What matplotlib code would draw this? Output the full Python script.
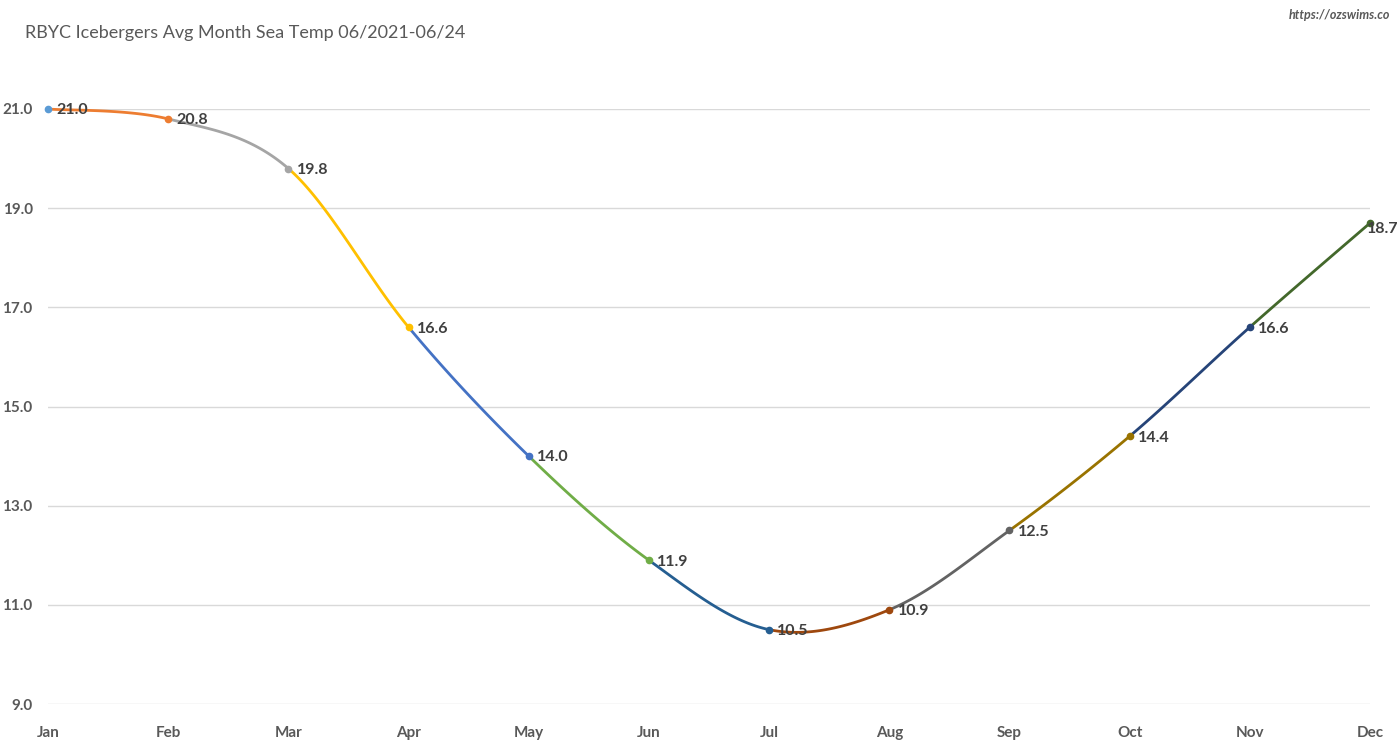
import matplotlib
matplotlib.use('Agg')
import matplotlib.pyplot as plt
import numpy as np

plt.rcParams['font.family'] = ['Lato', 'DejaVu Sans']

#%% data
months = ['Jan', 'Feb', 'Mar', 'Apr', 'May', 'Jun', 'Jul', 'Aug', 'Sep', 'Oct', 'Nov', 'Dec']
temps = [21.0, 20.8, 19.8, 16.6, 14.0, 11.9, 10.5, 10.9, 12.5, 14.4, 16.6, 18.7]
yticks = [9.0, 11.0, 13.0, 15.0, 17.0, 19.0, 21.0]
colors = ['#5B9BD5', '#ED7D31', '#A5A5A5', '#FFC000', '#4472C4', '#70AD47',
          '#255E91', '#9E480E', '#636363', '#997300', '#264478', '#43682B']
title = 'RBYC Icebergers Avg Month Sea Temp 06/2021-06/24'
source = 'https://ozswims.co'

#%% smoothed segments (excel style bezier)
x = np.arange(len(temps), dtype=float)
y = np.array(temps)

def bezier_seg(i, n=60):
    p0 = np.array([x[max(i - 1, 0)], y[max(i - 1, 0)]])
    p1 = np.array([x[i], y[i]])
    p2 = np.array([x[i + 1], y[i + 1]])
    p3 = np.array([x[min(i + 2, len(x) - 1)], y[min(i + 2, len(x) - 1)]])
    c1 = p1 + (p2 - p0) / 6.0
    c2 = p2 - (p3 - p1) / 6.0
    t = np.linspace(0, 1, n)[:, None]
    pts = (1 - t)**3 * p1 + 3 * (1 - t)**2 * t * c1 + 3 * (1 - t) * t**2 * c2 + t**3 * p2
    return pts[:, 0], pts[:, 1]

fig = plt.figure(figsize=(14, 7.5), dpi=100, facecolor='w')
ax = fig.add_axes([48 / 1400, 1 - 704 / 750, 1322 / 1400, 595 / 750])

for i in range(len(temps) - 1):
    sx, sy = bezier_seg(i)
    ax.plot(sx, sy, color=colors[i + 1], lw=2.0, solid_capstyle='round', clip_on=False, zorder=3)

for i in range(len(temps)):
    ax.plot(x[i], y[i], 'o', ms=4.5, color=colors[i], clip_on=False, zorder=4)
    off = (6, -1) if i < len(temps) - 1 else (-2, -4)
    ax.annotate('%.1f' % temps[i], (x[i], y[i]), xytext=off, textcoords='offset points',
                ha='left', va='center', fontsize=11.5, fontweight='bold', color='#404040',
                zorder=5, annotation_clip=False)

ax.set_xlim(0, len(months) - 1)
ax.set_ylim(9, 21)
ax.set_yticks(yticks)
ax.set_yticklabels(['%.1f' % v for v in yticks])
ax.set_xticks(x)
ax.set_xticklabels(months)
ax.grid(True, axis='y', color='#D9D9D9', lw=1)
ax.set_axisbelow(True)
for s in ax.spines.values():
    s.set_visible(False)
ax.tick_params(axis='both', length=0, labelsize=11, labelcolor='#595959')
ax.tick_params(axis='y', pad=11)
ax.tick_params(axis='x', pad=16)
for lab in ax.get_xticklabels() + ax.get_yticklabels():
    lab.set_fontweight('bold')

fig.text(25 / 1400, 1 - 33 / 750, title, fontsize=13, color='#595959', va='center', ha='left')
fig.text(1390 / 1400, 1 - 15 / 750, source, fontsize=9, color='#595959', style='italic',
         fontweight='bold', va='center', ha='right')

fig.savefig('out.png', dpi=100)
